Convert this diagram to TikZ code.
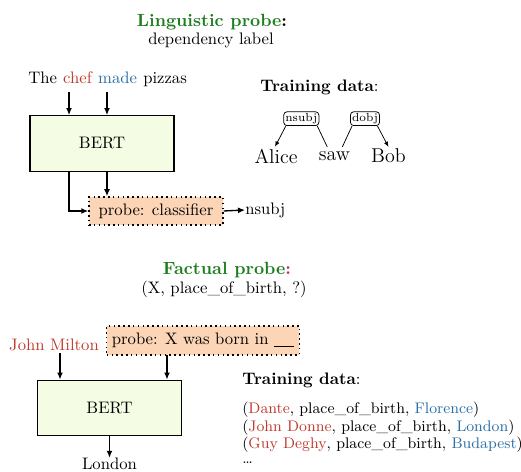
\documentclass[tikz,border=0pt]{standalone}
\usetikzlibrary{arrows.meta}
\definecolor{tred}{HTML}{C0392B}
\definecolor{tblue}{HTML}{2A6EA6}
\definecolor{tgreen}{HTML}{1E7D1E}
\definecolor{tmag}{HTML}{C8287A}
\definecolor{bertfill}{HTML}{F4FDE4}
\definecolor{probefill}{HTML}{FBD5B5}
\begin{document}
\begin{tikzpicture}[x=0.6pt,y=-0.6pt,
  txt/.style={inner sep=0pt, font=\normalsize},
  title/.style={inner sep=0pt, font=\fontsize{10.6}{12}\selectfont\bfseries, text=tgreen},
  bertbox/.style={draw, line width=0.8pt, fill=bertfill, minimum width=86.6pt, minimum height=33.3pt, inner sep=0pt},
  probebox/.style={draw, dotted, line width=0.9pt, fill=probefill, inner sep=0pt},
  arr/.style={-{Latex[length=4.2pt,width=3.6pt]}, line width=0.8pt},
  sarr/.style={-{Latex[length=3.2pt,width=2.6pt]}, line width=0.45pt},
  deplab/.style={draw, rounded corners=2pt, line width=0.45pt, inner sep=1pt, font=\scriptsize},
  word/.style={inner sep=1pt, font=\large},
  dline/.style={inner sep=0pt, anchor=west, font=\fontsize{9.2}{11}\selectfont}]
\useasboundingbox (0,0) rectangle (521,472);

% ---------- Linguistic probe ----------
\node[title] (t1) at (212,22) {Linguistic probe\textcolor{black}{:}};
\node[txt] (s1) at (211,40) {dependency label};

\node[txt, anchor=base west] (w1) at (28,84) {The};
\node[txt, anchor=base west, text=tred] (chef) at (w1.base east) {\ chef};
\node[txt, anchor=base west, text=tblue] (made) at (chef.base east) {\ made};
\node[txt, anchor=base west] (w4) at (made.base east) {\ pizzas};

\node[bertbox] (bert1) at (102,143.5) {BERT};
\node[probebox, minimum width=80.4pt, minimum height=16.8pt] (probe1) at (156,211) {probe: classifier};
\node[txt, anchor=west] (out1) at (245,210) {nsubj};

\coordinate (a1) at (69,92);
\coordinate (a2) at (107,92);
\draw[arr] (a1) -- (a1 |- bert1.north);
\draw[arr] (a2) -- (a2 |- bert1.north);
\draw[arr] (a1 |- bert1.south) |- (probe1.west);
\draw[arr] (a2 |- bert1.south) -- (a2 |- probe1.north);
\draw[arr] (probe1.east) -- (out1.west);

% dependency training data
\node[txt, font=\bfseries, anchor=west] (tr1) at (260,87) {Training data\textnormal{:}};
\node[word] (alice) at (276,156) {Alice};
\node[word] (saw) at (334.5,156) {saw};
\node[word] (bob) at (388.5,156) {Bob};
\node[deplab] (l1) at (301.3,118.7) {nsubj};
\node[deplab] (l2) at (365,118.7) {dobj};
\coordinate (sawl) at (327.3,147);
\coordinate (sawr) at (342.3,147);
\draw[sarr] ([xshift=1.5pt]l1.south west) -- ([xshift=-0.6pt]alice.north);
\draw[line width=0.45pt] ([xshift=-1.2pt]l1.south east) -- (sawl);
\draw[line width=0.45pt] ([xshift=1.2pt]l2.south west) -- (sawr);
\draw[sarr] ([xshift=-1.5pt]l2.south east) -- (bob.north);

% ---------- Factual probe ----------
\node[title] (t2) at (227,270) {Factual probe\textcolor{tmag}{:}};
\node[txt] (s2) at (224,289) {(X, place\_of\_birth, ?)};

\node[txt, text=tred] (milton) at (54,345) {John Milton};
\node[probebox, minimum width=115.6pt, minimum height=17.4pt] (probe2) at (203,340.5) {probe: X was born in \rule[-1pt]{1.2em}{0.4pt}};
\node[bertbox] (bert2) at (109.5,408) {BERT};
\node[txt] (london) at (109.5,464) {London};

\coordinate (b1) at (60,353);
\coordinate (b2) at (167,355);
\draw[arr] (b1) -- (b1 |- bert2.north);
\draw[arr] (b2) -- (b2 |- bert2.north);
\draw[arr] (bert2.south) -- (bert2.south |- london.north);

\node[txt, font=\bfseries, anchor=west] (tr2) at (242,380) {Training data\textnormal{:}};
\node[dline] (d1) at (242,410) {(\textcolor{tred}{Dante}, place\_of\_birth, \textcolor{tblue}{Florence})};
\node[dline] (d2) at (242,427.5) {(\textcolor{tred}{John Donne}, place\_of\_birth, \textcolor{tblue}{London})};
\node[dline] (d3) at (242,445) {(\textcolor{tred}{Guy Deghy}, place\_of\_birth, \textcolor{tblue}{Budapest})};
\node[dline] (d4) at (242,463) {\dots};
\end{tikzpicture}
\end{document}
